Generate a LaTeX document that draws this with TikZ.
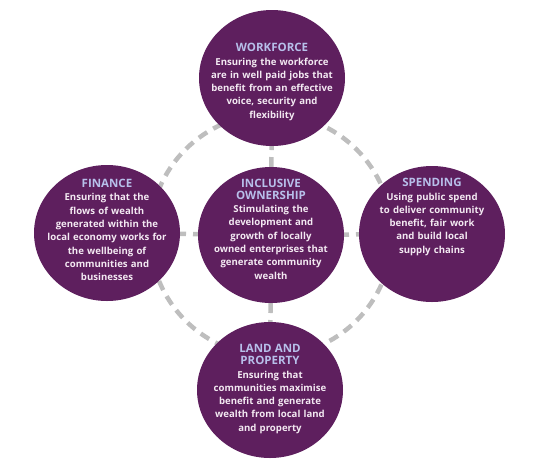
\documentclass[tikz,border=0pt]{standalone}
\usepackage{fontspec}
\setmainfont{Open Sans}
\usetikzlibrary{shapes.geometric,backgrounds}
\definecolor{plum}{HTML}{5E1F5E}
\definecolor{ttlc}{HTML}{B7BFEA}
\definecolor{bodc}{HTML}{F3E9F2}
\definecolor{ringc}{HTML}{BEBEBE}
\newcommand\ttl[1]{{\color{ttlc}\fontsize{11.5}{12.5}\selectfont\bfseries #1}}
\tikzset{
  disc/.style={ellipse, fill=plum, minimum width=146pt, minimum height=136pt, inner sep=0pt},
  txt/.style={text=bodc, text width=160pt, align=center, inner sep=0pt,
    font=\fontsize{9.6}{13.3}\selectfont\bfseries},
  ringline/.style={draw=ringc, line width=4.5pt, dash pattern=on 10pt off 7pt}
}
\begin{document}
\begin{tikzpicture}[x=1pt,y=-1pt]
\useasboundingbox (0,0) rectangle (550,467);
\node[disc] (w) at (272,78) {};
\node[disc] (f) at (107,233) {};
\node[disc] (o) at (271,235) {};
\node[disc] (s) at (432,234) {};
\node[disc] (l) at (270,390) {};
\node[txt] (wt) at (272,82) {\ttl{WORKFORCE}\\Ensuring the workforce\\are in well paid jobs that\\benefit from an effective\\voice, security and\\flexibility};
\node[txt] (ft) at (107,230) {\ttl{FINANCE}\\Ensuring that the\\flows of wealth\\generated within the\\local economy works for\\the wellbeing of\\communities and\\businesses};
\node[txt] (ot) at (271,229) {\ttl{INCLUSIVE}\\[-1.3pt]\ttl{OWNERSHIP}\\Stimulating the\\development and\\growth of locally\\owned enterprises that\\generate community\\wealth};
\node[txt] (st) at (432,217) {\ttl{SPENDING}\\Using public spend\\to deliver community\\benefit, fair work\\and build local\\supply chains};
\node[txt] (lt) at (270,389) {\ttl{LAND AND}\\[-1.3pt]\ttl{PROPERTY}\\Ensuring that\\communities maximise\\benefit and generate\\wealth from local land\\and property};
\begin{scope}[on background layer]
\draw[ringline] (o.center) circle[radius=121];
\draw[ringline] (o.center) -- (w.center);
\draw[ringline] (o.center) -- (f.center);
\draw[ringline] (o.center) -- (s.center);
\draw[ringline] (o.center) -- (l.center);
\end{scope}
\end{tikzpicture}
\end{document}
